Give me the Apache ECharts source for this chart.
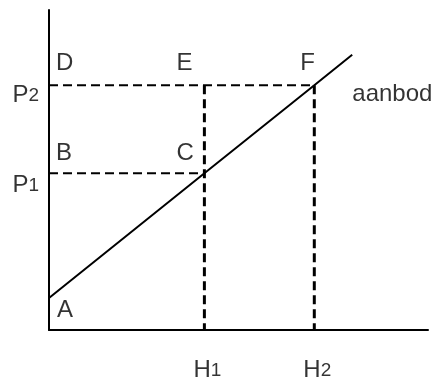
<!DOCTYPE html>
<html>
<head>
<meta charset="utf-8">
<style>
  html, body { margin: 0; padding: 0; background: #fff; }
  #chart { width: 441px; height: 381px; }
</style>
<script src="https://cdn.jsdelivr.net/npm/echarts@6/dist/echarts.min.js"></script>
</head>
<body>
<div id="chart"></div>
<script>
// waarden (assen 0..10)
const xMax = 10
const yMax = 10
const hValues = [4.1, 7.0]      // H1, H2
const pValues = [4.9, 7.65]     // P1, P2
const supplyX = [0, 4.1, 7.0, 8.0]
const supplyY = [1.0, 4.9, 7.65, 8.6]
const pointNames = ['A', 'B', 'C', 'D', 'E', 'F']
const axisNames = ['P1', 'P2', 'H1', 'H2']
const curveName = 'aanbod'

const font = 'Liberation Sans, Arial, sans-serif'
const chart = echarts.init(document.getElementById('chart'))

// punten A..F
const pointCoords = {
  A: [0, supplyY[0]],
  B: [0, pValues[0]],
  C: [hValues[0], pValues[0]],
  D: [0, pValues[1]],
  E: [hValues[0], pValues[1]],
  F: [hValues[1], pValues[1]]
}
// label plaatsing t.o.v. het punt [dx, dy, align]
const labelPos = {
  A: [8, 12, 'left'],
  B: [7, -20, 'left'],
  C: [-28, -20, 'left'],
  D: [7, -22, 'left'],
  E: [-28, -22, 'left'],
  F: [-14, -22, 'left'],
  P1: [-10, 11, 'right'],
  P2: [-10, 9, 'right'],
  H1: [3, 39, 'center'],
  H2: [3, 39, 'center'],
  aanbod: [38, 9, 'left']
}

const axisCoords = {
  P1: [0, pValues[0]],
  P2: [0, pValues[1]],
  H1: [hValues[0], 0],
  H2: [hValues[1], 0]
}

const labelItem = (key, coord, text) => {
  const p = labelPos[key]
  return {
    value: coord,
    label: {
      show: true,
      position: [p[0], p[1]],
      align: p[2],
      verticalAlign: 'middle',
      formatter: text
    }
  }
}

const labelData = []
pointNames.forEach(n => labelData.push(labelItem(n, pointCoords[n], n)))
axisNames.forEach(n => labelData.push(labelItem(n, axisCoords[n], '{m|' + n[0] + '}{s|' + n.slice(1) + '}')))
labelData.push(labelItem(curveName, pointCoords.F, curveName))

const hLines = [
  [0, pValues[1]], [hValues[1], pValues[1]], '-',
  [0, pValues[0]], [hValues[0], pValues[0]]
]
const vLines = [
  [hValues[0], pValues[1]], [hValues[0], 0], '-',
  [hValues[1], pValues[1]], [hValues[1], 0]
]

const option = {
  animation: false,
  backgroundColor: '#fff',
  grid: { left: 49, right: 13, top: 10, bottom: 51 },
  xAxis: {
    type: 'value', min: 0, max: xMax,
    axisLine: { lineStyle: { color: '#000', width: 2 } },
    axisTick: { show: false }, axisLabel: { show: false }, splitLine: { show: false }
  },
  yAxis: {
    type: 'value', min: 0, max: yMax,
    axisLine: { show: true, lineStyle: { color: '#000', width: 2 } },
    axisTick: { show: false }, axisLabel: { show: false }, splitLine: { show: false }
  },
  series: [
    {
      type: 'line', silent: true, symbol: 'none', connectNulls: false,
      lineStyle: { color: '#000', width: 2, type: [9, 5] },
      data: hLines
    },
    {
      type: 'line', silent: true, symbol: 'none', connectNulls: false,
      lineStyle: { color: '#000', width: 3, type: [9, 5] },
      data: vLines
    },
    {
      type: 'line', silent: true, symbol: 'none',
      lineStyle: { color: '#000', width: 2 },
      data: supplyX.map((x, i) => [x, supplyY[i]])
    },
    {
      type: 'scatter', silent: true, symbolSize: 0,
      itemStyle: { color: 'transparent' },
      label: {
        color: '#000', fontFamily: font, fontSize: 24,
        rich: {
          m: { color: '#000', fontFamily: font, fontSize: 24, lineHeight: 26, verticalAlign: 'bottom' },
          s: { color: '#000', fontFamily: font, fontSize: 19, lineHeight: 26, verticalAlign: 'bottom', padding: [0, 0, 2, 0] }
        }
      },
      data: labelData
    }
  ]
}
chart.setOption(option)
</script>
</body>
</html>
